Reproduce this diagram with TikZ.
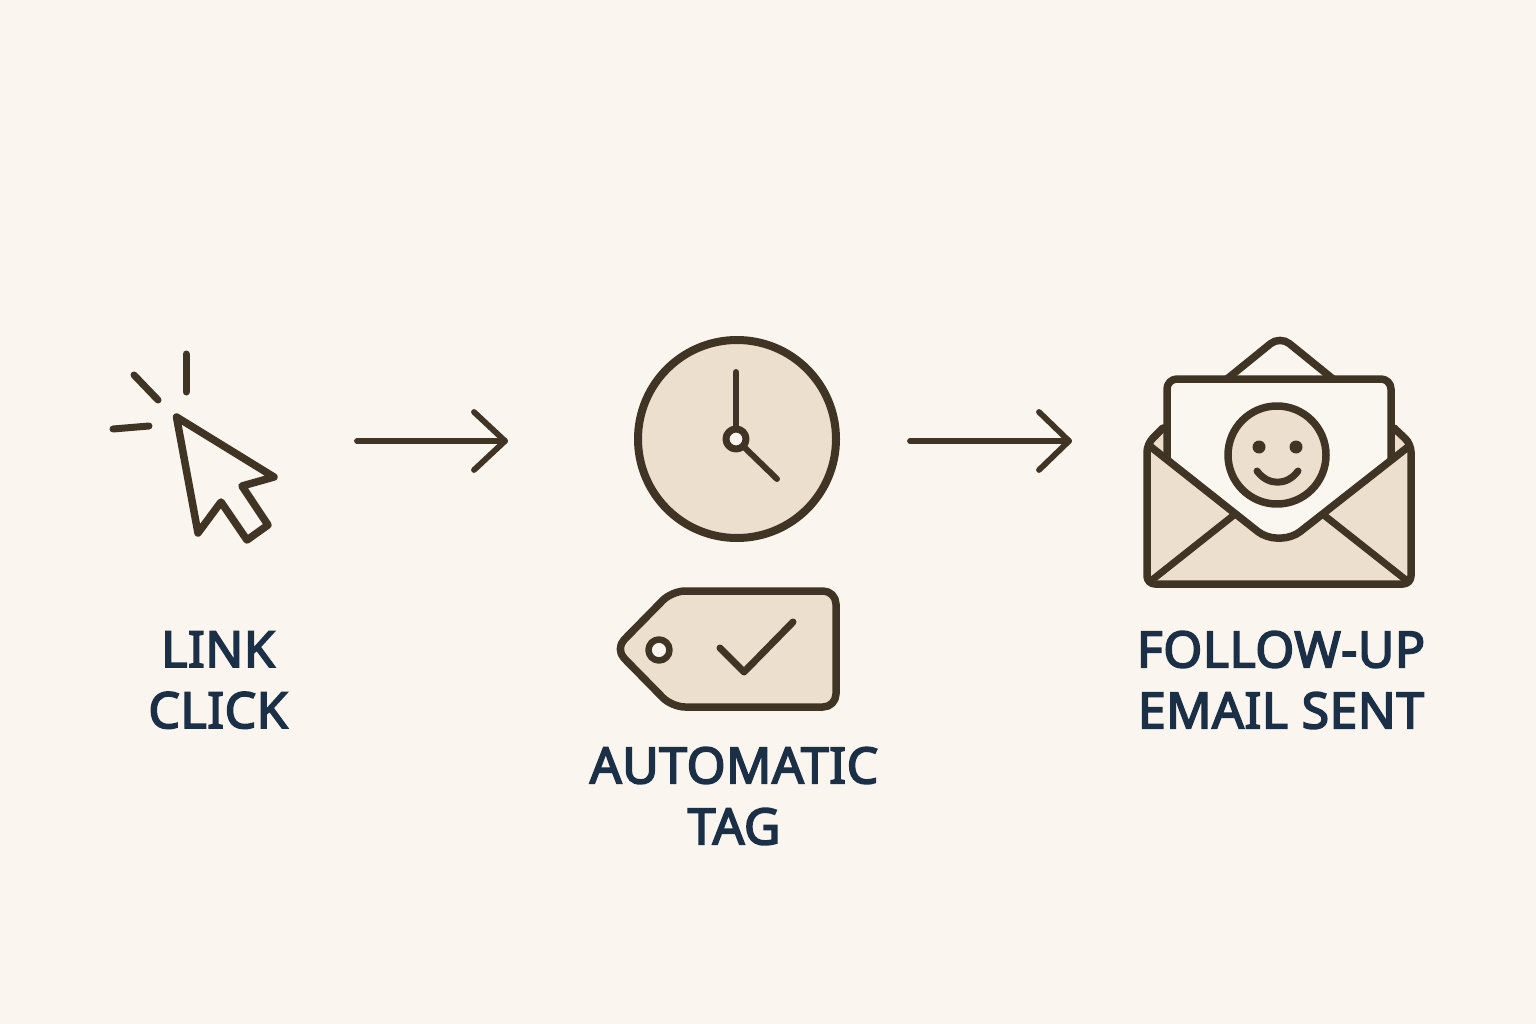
\documentclass[tikz,border=0pt]{standalone}
\usepackage{fontspec}
\setmainfont{Noto Sans}
\newfontfamily\labfont[FakeBold=3.4,LetterSpace=1]{Noto Sans}
\definecolor{bgc}{HTML}{FAF5EE}
\definecolor{tan}{HTML}{ECDFCD}
\definecolor{ink}{HTML}{403525}
\definecolor{navy}{HTML}{1B2F47}
\definecolor{paperc}{HTML}{FAF6F0}
\tikzset{
  icon/.style={draw=ink,line width=7.5pt,line join=round,line cap=round},
  slim/.style={draw=ink,line width=7pt,line join=round,line cap=round},
  flow/.style={draw=ink,line width=5.8pt,line cap=round,line join=round},
  label/.style={text=navy,font=\fontsize{50}{61}\labfont,align=center,inner sep=0pt},
}
\begin{document}
\begin{tikzpicture}[x=1pt,y=-1pt]
\useasboundingbox (0,0) rectangle (1536,1024);
\fill[bgc] (0,0) rectangle (1536,1024);
% cursor
\draw[icon] (176.5,417) -- (274,477) -- (242,486) -- (268,525) -- (247,540) -- (221,502) -- (198,533) -- cycle;
\draw[slim] (186,354) -- (186,392);
\draw[slim] (134,375) -- (158,400);
\draw[slim] (113,429) -- (149,426);
% arrows
\coordinate (a1s) at (357,441);
\coordinate (a1e) at (505,441);
\coordinate (a1u) at (474,412);
\coordinate (a1d) at (474,470);
\draw[flow] (a1s) -- (a1e);
\draw[flow] (a1u) -- (a1e) -- (a1d);
\coordinate (a2s) at (910,441);
\coordinate (a2e) at (1069,441);
\coordinate (a2u) at (1039,412);
\coordinate (a2d) at (1039,470);
\draw[flow] (a2s) -- (a2e);
\draw[flow] (a2u) -- (a2e) -- (a2d);
% clock
\node[circle,icon,fill=tan,minimum size=198pt,inner sep=0pt,line width=8pt] (clock) at (737,439) {};
\draw[slim,line width=6pt] (736,372) -- (736,428);
\draw[slim,line width=6pt] (744,447) -- (777,479);
\node[circle,slim,fill=bgc,minimum size=20pt,inner sep=0pt] (hub) at (736,439) {};
% tag
\draw[icon,fill=tan,rounded corners=13pt] (615,649) -- (672,591) -- (836,591) -- (836,707) -- (672,707) -- cycle;
\node[circle,slim,line width=6.5pt,fill=bgc,minimum size=21pt,inner sep=0pt] (hole) at (659,650) {};
\draw[slim] (720,648) -- (744,672) -- (793,622);
% envelope back
\draw[icon,fill=bgc,rounded corners=12pt] (1227,379) -- (1280,336) -- (1333,379);
\fill[tan,rounded corners=6pt] (1163,428) -- (1147,444) -- (1147,584) -- (1411,584) -- (1411,444) -- (1394,428) -- cycle;
\draw[icon,rounded corners=8pt] (1163,428) -- (1147,444) -- (1147,584) -- (1411,584) -- (1411,444) -- (1394,428);
% letter
\fill[paperc,rounded corners=10pt] (1167,459) -- (1167,379) -- (1391,379) -- (1391,460) -- (1290,538) -- (1270,538) -- cycle;
\draw[icon,rounded corners=10pt] (1167,459) -- (1167,379) -- (1391,379) -- (1391,460);
% pocket folds, then flap V
\draw[slim] (1152,580) -- (1234,515);
\draw[slim] (1406,580) -- (1325,516);
\draw[icon,rounded corners=10pt] (1151,447) -- (1266,538) -- (1292,538) -- (1408,447);
% smiley
\node[circle,icon,fill=tan,minimum size=98pt,inner sep=0pt] (face) at (1277,455) {};
\fill[ink] (1259,447) circle (6.5pt) (1296,447) circle (6.5pt);
\draw[slim] (1257,471) .. controls (1268,486) and (1287,486) .. (1298,471);
% labels
\node[label] (t1) at (218,680) {LINK\\CLICK};
\node[label] (t2) at (734,796) {AUTOMATIC\\TAG};
\node[label] (t3) at (1281,680) {FOLLOW-UP\\EMAIL SENT};
\end{tikzpicture}
\end{document}
